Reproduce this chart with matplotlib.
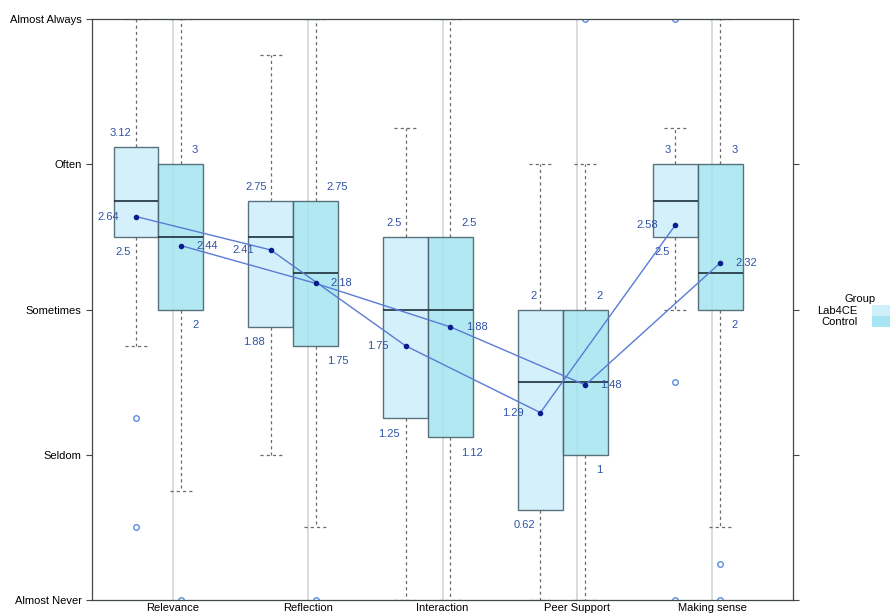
import numpy as np
import matplotlib
matplotlib.use("Agg")
from matplotlib import pyplot as plt
from matplotlib.patches import Patch

plt.rcParams['font.family'] = ['Liberation Sans', 'DejaVu Sans']

# categories and y scale labels
categories = ["Relevance", "Reflection", "Interaction", "Peer Support", "Making sense"]
levels = ["Almost Never", "Seldom", "Sometimes", "Often", "Almost Always"]

# Lab4CE group stats (per category)
lab_q1 = [2.5, 1.88, 1.25, 0.62, 2.5]
lab_med = [2.75, 2.5, 2.0, 1.5, 2.75]
lab_q3 = [3.12, 2.75, 2.5, 2.0, 3.0]
lab_lo = [1.75, 1.0, 0.0, 0.0, 2.0]
lab_hi = [4.0, 3.75, 3.25, 3.0, 3.25]
lab_mean = [2.64, 2.41, 1.75, 1.29, 2.58]
lab_out = [[1.25, 0.5], [], [], [], [4.0, 1.5, 0.0]]

# Control group stats
ctl_q1 = [2.0, 1.75, 1.12, 1.0, 2.0]
ctl_med = [2.5, 2.25, 2.0, 1.5, 2.25]
ctl_q3 = [3.0, 2.75, 2.5, 2.0, 3.0]
ctl_lo = [0.75, 0.5, 0.0, 0.0, 0.5]
ctl_hi = [4.0, 4.0, 4.0, 3.0, 4.0]
ctl_mean = [2.44, 2.18, 1.88, 1.48, 2.32]
ctl_out = [[0.0], [0.0], [], [4.0], [0.25, 0.0]]

lab_col = "#cfeffa"
ctl_col = "#a6e5f1"
txt_col = "#2f52a8"
edge_col = "#45606c"

fig = plt.figure(figsize=(8.9, 6.14), dpi=100)
ax = fig.add_axes([92/890, 14/614, 701/890, 581/614])

x = np.arange(1, len(categories) + 1)
lab_x = x - 0.274
ctl_x = x + 0.059
width = 0.333

# light vertical guide lines (behind the boxes)
for xi in x:
    ax.axvline(xi, color="#d6dadd", lw=1.3, zorder=1)

def stats(q1, med, q3, lo, hi, mean, out):
    return [dict(q1=q1[i], med=med[i], q3=q3[i], whislo=lo[i], whishi=hi[i],
                 mean=mean[i], fliers=out[i]) for i in range(len(q1))]

common = dict(widths=width, patch_artist=True, showmeans=False, manage_ticks=False,
              whiskerprops=dict(color="#6a6a6a", lw=0.9, ls=(0, (2.5, 2.5))),
              capprops=dict(color="#6a6a6a", lw=0.9, ls=(0, (2.5, 2.5))),
              medianprops=dict(color="#1c2f3a", lw=1.2),
              flierprops=dict(marker="o", markersize=4, markerfacecolor="none",
                              markeredgecolor="#5a8ee0", markeredgewidth=1),
              zorder=2)

b1 = ax.bxp(stats(lab_q1, lab_med, lab_q3, lab_lo, lab_hi, lab_mean, lab_out),
            positions=lab_x, boxprops=dict(facecolor=lab_col, edgecolor=edge_col, lw=1), **common)
b2 = ax.bxp(stats(ctl_q1, ctl_med, ctl_q3, ctl_lo, ctl_hi, ctl_mean, ctl_out),
            positions=ctl_x, boxprops=dict(facecolor=ctl_col, edgecolor=edge_col, lw=1), **common)
for b in (b1, b2):
    for p in b["boxes"]:
        p.set_alpha(0.88)

# mean lines
ax.plot(lab_x, lab_mean, color="#5a7bd6", lw=1, zorder=5)
ax.plot(ctl_x, ctl_mean, color="#5a7bd6", lw=1, zorder=5)
ax.plot(lab_x, lab_mean, "o", color="#0a1d8f", ms=3, zorder=6)
ax.plot(ctl_x, ctl_mean, "o", color="#0a1d8f", ms=3, zorder=6)

def fmt(v):
    return f"{v:g}"

fs = 8
for i in range(len(categories)):
    # Lab4CE labels to the left
    ax.annotate(fmt(lab_q3[i]), (lab_x[i], lab_q3[i]), xytext=(-3, 10), textcoords="offset points",
                ha="right", va="center", fontsize=fs, color=txt_col, zorder=7)
    ax.annotate(fmt(lab_q1[i]), (lab_x[i], lab_q1[i]), xytext=(-4, -11), textcoords="offset points",
                ha="right", va="center", fontsize=fs, color=txt_col, zorder=7)
    ax.annotate(fmt(lab_mean[i]), (lab_x[i], lab_mean[i]), xytext=(-12, 0), textcoords="offset points",
                ha="right", va="center", fontsize=fs, color=txt_col, zorder=7)
    # Control labels to the right
    ax.annotate(fmt(ctl_q3[i]), (ctl_x[i], ctl_q3[i]), xytext=(8, 10), textcoords="offset points",
                ha="left", va="center", fontsize=fs, color=txt_col, zorder=7)
    ax.annotate(fmt(ctl_q1[i]), (ctl_x[i], ctl_q1[i]), xytext=(8, -11), textcoords="offset points",
                ha="left", va="center", fontsize=fs, color=txt_col, zorder=7)
    ax.annotate(fmt(ctl_mean[i]), (ctl_x[i], ctl_mean[i]), xytext=(11, 0), textcoords="offset points",
                ha="left", va="center", fontsize=fs, color=txt_col, zorder=7)

ax.set_xlim(0.4, 5.6)
ax.set_ylim(0, 4)
ax.set_xticks(x)
ax.set_xticklabels(categories, fontsize=fs)
ax.set_yticks(range(5))
ax.set_yticklabels(levels, fontsize=fs)
ax.tick_params(axis="x", length=0, pad=2)
ax.tick_params(axis="y", length=4.5, width=0.8, color="#404848", right=True, direction="out", pad=3)
for s in ax.spines.values():
    s.set_color("#404848")
    s.set_linewidth(0.9)

# legend: title placed by hand, entries with patches on the right
fig.text(860/890, 1 - 299/614, "Group", ha="center", va="center", fontsize=fs)
handles = [Patch(facecolor=lab_col, edgecolor="none"), Patch(facecolor=ctl_col, edgecolor="none")]
fig.legend(handles, ["Lab4CE", "Control"], loc="upper left",
           bbox_to_anchor=(817/890, 1 - 305/614), frameon=False, markerfirst=False,
           fontsize=fs, labelspacing=0.0, handlelength=2.5,
           handleheight=1.1, handletextpad=1.3, borderpad=0, borderaxespad=0)

fig.savefig("out.png", dpi=100)
